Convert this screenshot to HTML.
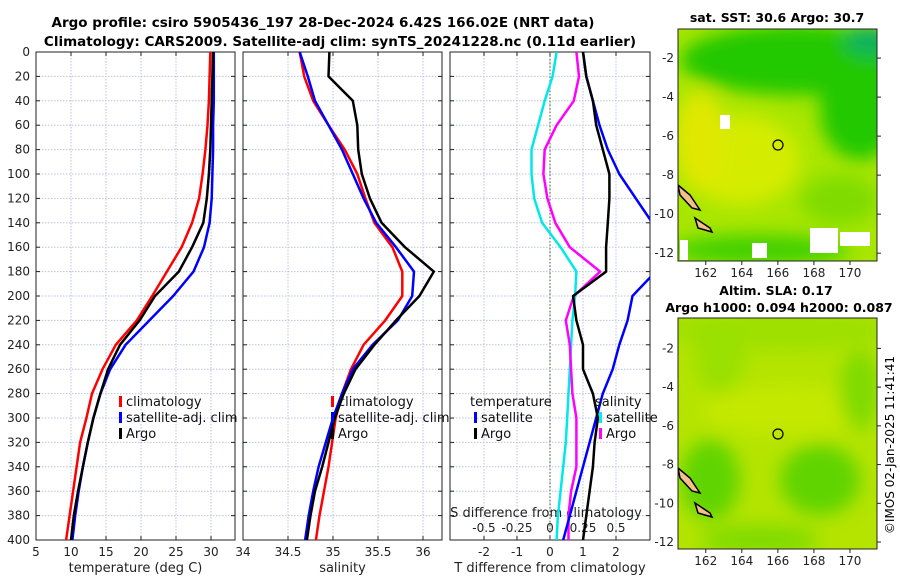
<!DOCTYPE html>
<html><head><meta charset="utf-8"><style>
body{margin:0;background:#fff;}
svg{display:block;font-family:"DejaVu Sans","Liberation Sans",sans-serif;}
</style></head><body>
<svg id="c" width="900" height="580" viewBox="0 0 900 580">
<defs>
<clipPath id="cp1"><rect x="36" y="52" width="199" height="488"/></clipPath>
<clipPath id="cp2"><rect x="243" y="52" width="199" height="488"/></clipPath>
<clipPath id="cp3"><rect x="450" y="52" width="200" height="488"/></clipPath>
<filter id="bl" x="-50%" y="-50%" width="200%" height="200%"><feGaussianBlur stdDeviation="9"/></filter>
<clipPath id="m1"><rect x="678" y="29" width="199" height="232"/></clipPath>
<clipPath id="m2"><rect x="678" y="318" width="199" height="231"/></clipPath>
</defs>
<text x="323" y="27" text-anchor="middle" font-size="13.5" font-weight="bold">Argo profile: csiro 5905436_197 28-Dec-2024 6.42S 166.02E (NRT data)</text>
<text x="340" y="46" text-anchor="middle" font-size="13.5" font-weight="bold">Climatology: CARS2009. Satellite-adj clim: synTS_20241228.nc (0.11d earlier)</text>

<g clip-path="url(#m1)">
<rect x="678" y="29" width="199" height="232" fill="#a8e600"/>
<g filter="url(#bl)">
<ellipse cx="800" cy="60" rx="120" ry="35" fill="#22c800"/>
<ellipse cx="860" cy="110" rx="40" ry="50" fill="#22c800"/>
<ellipse cx="870" cy="40" rx="25" ry="15" fill="#10b060"/>
<ellipse cx="740" cy="160" rx="60" ry="45" fill="#d4ec00"/>
<ellipse cx="700" cy="140" rx="25" ry="50" fill="#e0e800"/>
<ellipse cx="760" cy="250" rx="90" ry="15" fill="#40d000"/>
<ellipse cx="840" cy="200" rx="40" ry="25" fill="#80dc00"/>
</g>
<rect x="720" y="115" width="10" height="14" fill="#fff"/>
<rect x="810" y="228" width="28" height="25" fill="#fff"/>
<rect x="840" y="232" width="30" height="14" fill="#fff"/>
<rect x="752" y="243" width="15" height="15" fill="#fff"/>
<rect x="680" y="240" width="8" height="20" fill="#fff"/>
<path d="M678 185 L690 195 L700 210 L692 208 L680 195Z M695 218 L710 228 L712 232 L698 228Z" fill="#f3c08a" stroke="#000" stroke-width="1.5"/>
</g>
<rect x="678" y="29" width="199" height="232" fill="none" stroke="#222"/>
<circle cx="778" cy="145" r="5" fill="none" stroke="#000" stroke-width="1.2"/>
<text x="777" y="22" text-anchor="middle" font-size="12.5" font-weight="bold">sat. SST: 30.6 Argo: 30.7</text>

<g clip-path="url(#m2)">
<rect x="678" y="318" width="199" height="231" fill="#b4e400"/>
<g filter="url(#bl)">
<ellipse cx="780" cy="330" rx="120" ry="20" fill="#9ee000"/>
<ellipse cx="720" cy="355" rx="25" ry="40" fill="#9ae000"/>
<ellipse cx="790" cy="410" rx="90" ry="25" fill="#c4e800"/>
<ellipse cx="710" cy="480" rx="30" ry="40" fill="#60d400"/>
<ellipse cx="820" cy="480" rx="40" ry="35" fill="#60d400"/>
<ellipse cx="860" cy="390" rx="20" ry="40" fill="#80da00"/>
<ellipse cx="760" cy="540" rx="60" ry="15" fill="#80da00"/>
</g>
<path d="M678 468 L690 478 L700 493 L692 491 L680 478Z M695 503 L710 513 L712 517 L698 513Z" fill="#f3c08a" stroke="#000" stroke-width="1.5"/>
</g>
<rect x="678" y="318" width="199" height="231" fill="none" stroke="#222"/>
<circle cx="778" cy="434" r="5" fill="none" stroke="#000" stroke-width="1.2"/>
<text x="776" y="295" text-anchor="middle" font-size="12.5" font-weight="bold">Altim. SLA: 0.17</text>
<text x="779" y="312" text-anchor="middle" font-size="12.5" font-weight="bold">Argo h1000: 0.094 h2000: 0.087</text>
<text transform="translate(894,445) rotate(-90)" text-anchor="middle" font-size="12">©IMOS 02-Jan-2025 11:41:41</text>
<g id="dyn"></g>
</svg>
<script>
const depths=[0,20,40,60,80,100,120,140,160,180,200,220,240,260,280,300,320,340,360,380,400];
const tClim=[29.9,29.8,29.7,29.5,29.2,28.8,28.3,27.3,25.8,23.7,21.6,19.4,16.4,14.5,13.0,12.2,11.3,10.8,10.3,9.8,9.3];
const tSat=[30.4,30.4,30.4,30.3,30.3,30.2,30.1,29.8,29.0,27.5,24.6,21.2,17.8,15.6,14.2,13.2,12.4,11.7,11.1,10.6,10.2];
const tArgo=[30.3,30.2,30.1,30.0,29.9,29.7,29.4,28.9,27.3,25.4,22.0,19.8,17.0,15.3,14.2,13.2,12.4,11.7,11.0,10.4,10.0];
const sClim=[34.63,34.68,34.78,34.95,35.13,35.27,35.36,35.46,35.66,35.77,35.77,35.58,35.34,35.2,35.1,35.03,34.99,34.95,34.9,34.85,34.81];
const sSat=[34.63,34.72,34.8,34.95,35.1,35.22,35.34,35.48,35.7,35.9,35.88,35.72,35.44,35.22,35.1,35.0,34.92,34.84,34.78,34.73,34.69];
const sArgo=[34.96,34.95,35.22,35.27,35.28,35.32,35.41,35.54,35.8,36.12,35.96,35.7,35.46,35.25,35.12,35.02,34.95,34.88,34.8,34.75,34.71];
const dtSat=[1.0,1.1,1.3,1.5,1.75,2.1,2.6,3.1,3.8,3.2,2.5,2.35,2.1,1.9,1.6,1.4,1.2,1.0,0.8,0.6,0.4];
const dtArgo=[1.0,1.1,1.3,1.4,1.6,1.8,1.8,1.75,1.7,1.7,0.7,0.8,1.0,1.0,1.3,1.45,1.35,1.3,1.2,1.1,1.0];
const dsSat=[0.05,0.02,-0.04,-0.09,-0.14,-0.14,-0.12,-0.06,0.08,0.2,0.19,0.17,0.16,0.15,0.14,0.13,0.12,0.1,0.08,0.06,0.05];
const dsArgo=[0.2,0.22,0.18,0.05,-0.04,-0.05,-0.02,0.04,0.15,0.38,0.18,0.12,0.15,0.16,0.17,0.2,0.2,0.2,0.16,0.14,0.14];
const depthTicks=[0,20,40,60,80,100,120,140,160,180,200,220,240,260,280,300,320,340,360,380,400];
const tTicks=[5,10,15,20,25,30];
const sTicks=[34,34.5,35,35.5,36];
const dtTicks=[-2,-1,0,1,2];
const dsTickLabels=["-0.5","-0.25","0","0.25","0.5"];
const dsTicks=[-0.5,-0.25,0,0.25,0.5];
const mapLon=[162,164,166,168,170];
const mapLat=[-2,-4,-6,-8,-10,-12];

const NS='http://www.w3.org/2000/svg';
const g=document.getElementById('dyn');
function mk(tag,at,parent){const e=document.createElementNS(NS,tag);for(const k in at)e.setAttribute(k,at[k]);(parent||g).appendChild(e);return e;}
const Y0=52,Y1=540;
const yD=d=>Y0+(d/400)*(Y1-Y0);
const P1={x0:36,x1:235,v0:5,v1:33.43};
const P2={x0:243,x1:442,v0:34,v1:36.211};
const P3={x0:450,x1:650,v0:-3.03,v1:3.03};
const sx=(p,v)=>p.x0+(v-p.v0)/(p.v1-p.v0)*(p.x1-p.x0);
const sxS=v=>sx(P3,v*4);

function frame(p,name,xt,xl,xlab){
  for(const d of depthTicks){const l=mk('line',{x1:p.x0,x2:p.x1,y1:yD(d),y2:yD(d),stroke:'#b8c4e0','stroke-dasharray':'1.5,1.5','stroke-width':1});
    }
  xt.forEach((v,i)=>{const x=sx(p,v);
    if(x>p.x0+1){const l=mk('line',{x1:x,x2:x,y1:Y0,y2:Y1,stroke:'#b8c4e0','stroke-dasharray':'1.5,1.5'});
      }
    mk('line',{x1:x,x2:x,y1:Y1,y2:Y1-4,stroke:'#222'});mk('line',{x1:x,x2:x,y1:Y0,y2:Y0+4,stroke:'#222'});
    const t=mk('text',{x:x,y:556,'text-anchor':'middle','font-size':12,fill:'#222'});t.textContent=xl[i];
    });
  for(const d of depthTicks){mk('line',{x1:p.x0,x2:p.x0+4,y1:yD(d),y2:yD(d),stroke:'#222'});mk('line',{x1:p.x1,x2:p.x1-4,y1:yD(d),y2:yD(d),stroke:'#222'});}
  const r=mk('rect',{x:p.x0,y:Y0,width:p.x1-p.x0,height:Y1-Y0,fill:'none',stroke:'#222'});
  
  const t=mk('text',{x:(p.x0+p.x1)/2,y:572,'text-anchor':'middle','font-size':13,fill:'#222'});t.textContent=xlab;
  
}
frame(P1,'temperature-panel',tTicks,tTicks.map(String),'temperature (deg C)');
frame(P2,'salinity-panel',sTicks,sTicks.map(String),'salinity');
frame(P3,'difference-panel',dtTicks,dtTicks.map(String),'T difference from climatology');
for(const d of depthTicks){const t=mk('text',{x:30,y:yD(d)+4,'text-anchor':'end','font-size':12,fill:'#222'});t.textContent=d;
  }
const z=mk('line',{x1:sx(P3,0),x2:sx(P3,0),y1:Y0,y2:Y1,stroke:'#4a5a2a','stroke-dasharray':'1.5,2'});

dsTicks.forEach((v,i)=>{const t=mk('text',{x:sxS(v),y:532,'text-anchor':'middle','font-size':12,fill:'#222'});t.textContent=dsTickLabels[i];
  });
{const t=mk('text',{x:546,y:517,'text-anchor':'middle','font-size':13,fill:'#222'});t.textContent='S difference from climatology';
 }

function line(vals,fx,color,name,clip){
  const d=vals.map((v,i)=>(i?'L':'M')+fx(v).toFixed(1)+' '+yD(depths[i]).toFixed(1)).join(' ');
  const p=mk('path',{d:d,fill:'none',stroke:color,'stroke-width':2.5,'stroke-linejoin':'round','clip-path':'url(#'+clip+')'});
  
}
line(tClim,v=>sx(P1,v),'#ff0000','temp-climatology-line','cp1');
line(tSat,v=>sx(P1,v),'#0000ff','temp-satellite-line','cp1');
line(tArgo,v=>sx(P1,v),'#000','temp-argo-line','cp1');
line(sClim,v=>sx(P2,v),'#ff0000','sal-climatology-line','cp2');
line(sSat,v=>sx(P2,v),'#0000ff','sal-satellite-line','cp2');
line(sArgo,v=>sx(P2,v),'#000','sal-argo-line','cp2');
line(dsSat,sxS,'#00e8e8','s-diff-satellite-line','cp3');
line(dsArgo,sxS,'#ff00ff','s-diff-argo-line','cp3');
line(dtSat,v=>sx(P3,v),'#0000ff','t-diff-satellite-line','cp3');
line(dtArgo,v=>sx(P3,v),'#000','t-diff-argo-line','cp3');

function legend(x,y,items,name){items.forEach((it,i)=>{const yy=y+i*16;
  if(it[1]){const m=mk('rect',{x:x,y:yy-10,width:3,height:11,fill:it[1]});}
  const t=mk('text',{x:x+(it[1]?7:-4),y:yy,'font-size':13,fill:'#111'});t.textContent=it[0];
  });}
legend(119,406,[['climatology','#f00'],['satellite-adj. clim','#00f'],['Argo','#000']],'temp-legend-entry');
legend(331,406,[['climatology','#f00'],['satellite-adj. clim','#00f'],['Argo','#000']],'sal-legend-entry');
legend(474,406,[['temperature',null],['satellite','#00f'],['Argo','#000']],'t-diff-legend-entry');
legend(599,406,[['salinity',null],['satellite','#0ee'],['Argo','#f0f']],'s-diff-legend-entry');

function mapAxes(y0,y1,latTop,latBot,name){
  const lx=v=>678+(v-160.46)/(171.5-160.46)*199;
  const ly=v=>y0+(v-latTop)/(latBot-latTop)*(y1-y0);
  mapLon.forEach(v=>{const x=lx(v);mk('line',{x1:x,x2:x,y1:y1,y2:y1+4,stroke:'#222'});
    const t=mk('text',{x:x,y:y1+16,'text-anchor':'middle','font-size':12,fill:'#222'});t.textContent=v;
    });
  mapLat.forEach(v=>{const y=ly(v);mk('line',{x1:877,x2:881,y1:y,y2:y,stroke:'#222'});
    const t=mk('text',{x:674,y:y+4,'text-anchor':'end','font-size':12,fill:'#222'});t.textContent=v;
    });
}
mapAxes(29,261,-0.51,-12.4,'sst-map');
mapAxes(318,549,-0.43,-12.36,'sla-map');
</script>
</body></html>
